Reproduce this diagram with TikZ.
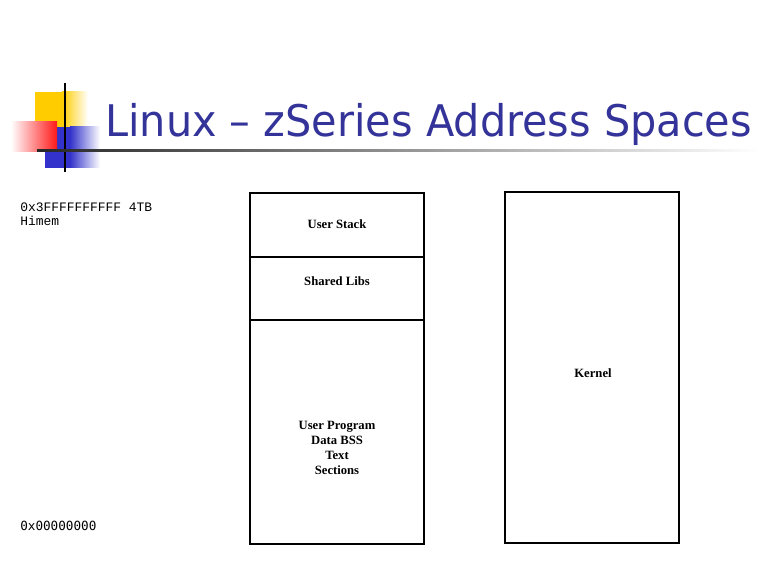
\documentclass[tikz,border=0pt]{standalone}
\usepackage{fontspec}
\setmainfont{Liberation Serif}
\newfontfamily\titlefont{DejaVu Sans}
\newfontfamily\hexfont{Liberation Mono}
\newfontfamily\zerofont{DejaVu Sans Mono}
\usetikzlibrary{positioning}
\definecolor{titleblue}{rgb}{0.2,0.2,0.6}
\definecolor{logoyellow}{rgb}{1,0.8,0}
\definecolor{logored}{rgb}{1,0.1,0.1}
\definecolor{logoblue}{rgb}{0.2,0.2,0.8}

\begin{document}
\begin{tikzpicture}[>=latex,
		membox/.style={draw, line width=1.4pt, minimum width=4.35cm, inner sep=0pt},
		memtext/.style={font=\bfseries\fontsize{9}{10.85}\selectfont, align=center},
		hextext/.style={anchor=base west, inner sep=0pt}]
			\useasboundingbox (0,0) rectangle (19.2,14.4);

			% Draw the logo squares
			\fill[color=logoyellow] (0.875,10.9) rectangle (1.55,12.1);
			\shade[left color=logoyellow, right color=white] (1.55,10.9) rectangle (2.2,12.1);
			\fill[color=logoblue] (1.125,10.2) rectangle (1.75,11.225);
			\shade[left color=logoblue, right color=white] (1.75,10.2) rectangle (2.5,11.225);
			\shade[left color=white, right color=logored] (0.275,10.6) rectangle (1.425,11.35);
			\draw[line width=1.4pt] (1.625,10.1) -- (1.625,12.325);

			% Draw the title and the rule below it
			\shade[left color=black!85, middle color=black!45, right color=white] (0.925,10.6) rectangle (19.0,10.65);
			\node[anchor=base west, inner sep=0pt, text=titleblue] (title) at (2.625,10.975)
				{\titlefont\fontsize{31}{36}\selectfont\scalebox{0.95}[1]{Linux – zSeries Address Spaces}};

			% Put the addresses
			\node[hextext] (himem) at (0.5,9.1) {\hexfont\fontsize{9.2}{10}\selectfont 0x3FFFFFFFFFF 4TB};
			\node[hextext] (himemname) at (0.5,8.75) {\hexfont\fontsize{9.2}{10}\selectfont Himem};
			\node[hextext] (lowmem) at (0.5,1.15) {\zerofont\fontsize{9}{10}\selectfont 0x00000000};

			% Draw the user address space
			\node[membox, minimum height=1.6cm] (stack) at (8.425,8.775) {};
			\node[membox, minimum height=1.575cm] (libs) at (8.425,7.1875) {};
			\node[membox, minimum height=5.6cm] (prog) at (8.425,3.6) {};
			\node[memtext] (stacktext) at (8.425,8.8) {User Stack};
			\node[memtext] (libstext) at (8.425,7.375) {Shared Libs};
			\node[memtext] (progtext) at (8.425,3.2) {User Program\\Data BSS\\Text\\Sections};

			% Draw the kernel address space
			\node[membox, minimum height=8.775cm] (kernel) at (14.8,5.2125) {};
			\node[memtext] (kerneltext) at (14.825,5.075) {Kernel};
		\end{tikzpicture}
\end{document}
